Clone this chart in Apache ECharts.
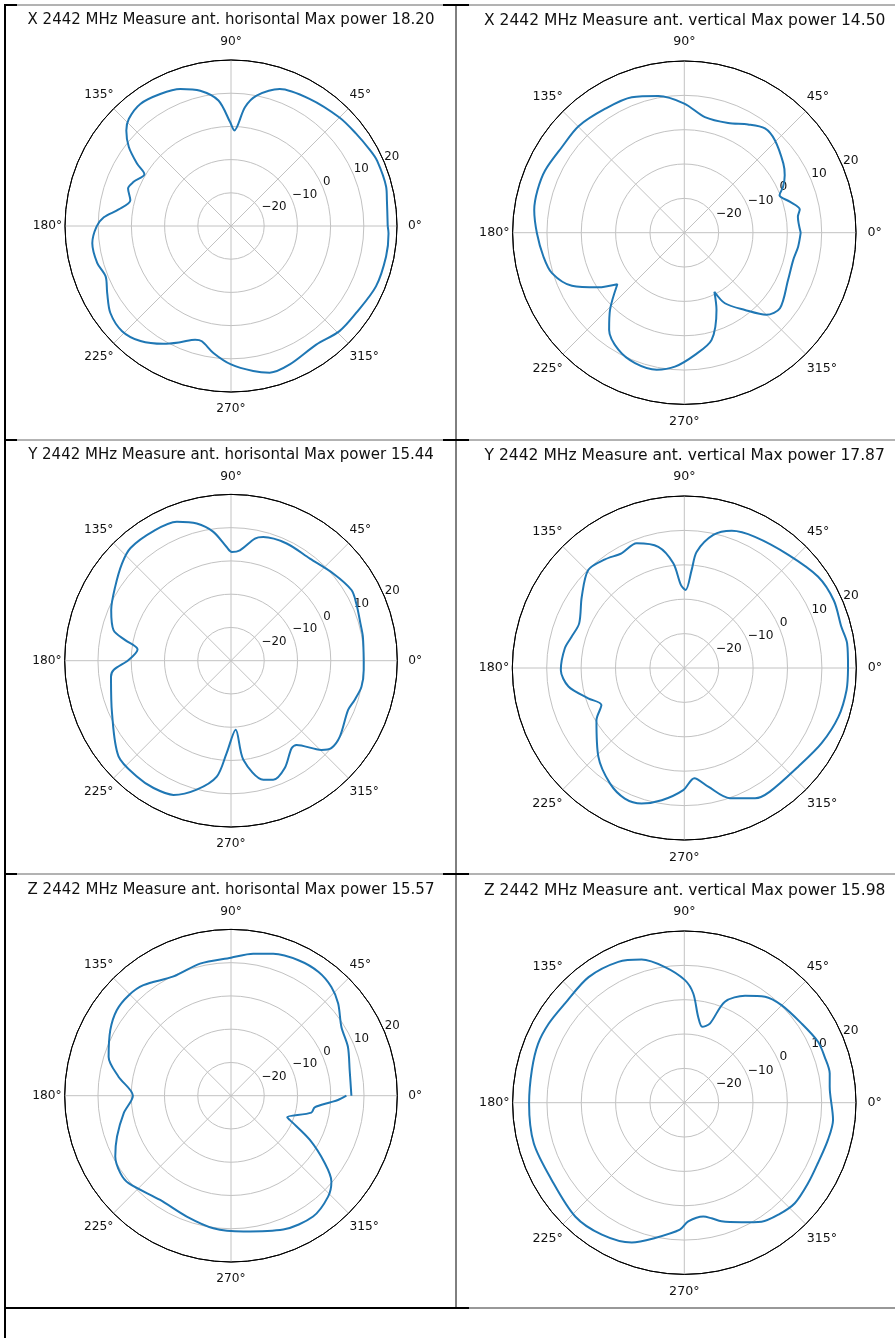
<!DOCTYPE html>
<html><head><meta charset="utf-8">
<script src="https://cdn.jsdelivr.net/npm/echarts@6/dist/echarts.min.js"></script>
<style>html,body{margin:0;padding:0;background:#fff}#c{width:895px;height:1338px}</style>
</head><body><div id="c"></div>
<script>
const titles = [
  'X 2442 MHz Measure ant. horisontal Max power 18.20',
  'X 2442 MHz Measure ant. vertical Max power 14.50',
  'Y 2442 MHz Measure ant. horisontal Max power 15.44',
  'Y 2442 MHz Measure ant. vertical Max power 17.87',
  'Z 2442 MHz Measure ant. horisontal Max power 15.57',
  'Z 2442 MHz Measure ant. vertical Max power 15.98'
];
const angleTicks = [0, 45, 90, 135, 180, 225, 270, 315];
const radiusTicks = [-30, -20, -10, 0, 10, 20];

const xHorAng = [0, 9.4, 14.2, 24, 28.6, 36.8, 45, 58.3, 70.4, 78.9, 83.3, 88, 90.5, 95.7, 102.8, 110.3, 118.2, 126.6, 133.6, 137.6, 142.3, 146.4, 149.1, 155.6, 160, 165.6, 171.6, 176.1, 180.3, 187.1, 195.5, 201.9, 208.4, 215.8, 224, 231.8, 240.2, 246.4, 252.5, 255.8, 262.1, 270, 278.7, 284.8, 293, 305.7, 315.9, 325.2, 337.4, 348.9, 357.3, 360];
const xHorDb  = [17.2, 17.6, 18.2, 18.2, 17.7, 16.8, 16.2, 15, 13.8, 10, 6, -1.2, 1.3, 8, 11.8, 14, 15.1, 15.8, 14.6, 12.7, 8.9, 4, 0.4, 2.2, 3, 1.3, 4.2, 8.4, 10.5, 12.1, 11.8, 10.7, 12.4, 14.8, 15.6, 14.1, 10.9, 8.2, 5.9, 5.8, 8.6, 11.7, 14.2, 15.7, 15.3, 14, 15.5, 15.9, 17.3, 17.6, 17.5, 17.2];

const xVerAng = [0, 8, 11.4, 16.4, 21.5, 24.9, 29.8, 35, 45.6, 52.3, 59.5, 68.2, 79.9, 90, 100.7, 111.2, 122.5, 134.8, 145, 155.8, 163.9, 171.4, 180.3, 189.7, 197, 205.3, 212.4, 217.6, 226.1, 232.3, 240.6, 249.3, 258.6, 266, 275, 284.3, 292.7, 297, 299.9, 308.1, 315, 321.7, 335.5, 346, 353, 360];
const xVerDb  = [3.9, 3.4, 4.3, 2, -0.2, 1.7, 3.7, 5.2, 7.7, 8.4, 6.6, 4.4, 4.2, 7.6, 10.5, 12.3, 12.8, 13.7, 13.5, 14.4, 14.5, 14.2, 12.9, 11.6, 10.3, 6.2, -0.3, -5.4, 1.2, 5.8, 9.1, 10.6, 10.7, 9.1, 5.7, 2.2, -5.7, -10.7, -6.3, -1.4, 3.8, 5.5, 3.2, 2.7, 3.4, 3.9];

const yHorAng = [0, 10.3, 16.1, 24.5, 30.4, 40.5, 52.3, 64.6, 75.4, 78.9, 85.4, 89.6, 92.2, 97.8, 104, 111.3, 120.7, 131.7, 138.3, 147.5, 157.1, 165.4, 169, 173.1, 179.6, 184.5, 187.6, 203.8, 220.4, 230.9, 238.7, 246.8, 255.1, 263, 267.3, 273.9, 277.1, 285.2, 289.5, 296.6, 304.7, 307.9, 315.4, 318.9, 325.1, 337.2, 342.4, 348.7, 356, 360];
const yHorDb  = [9.9, 10.3, 10.5, 11.4, 12, 10.4, 8.8, 9, 8.4, 7.4, 3.3, 2.7, 4.2, 9.1, 12.5, 14.8, 15.4, 15.4, 13.9, 11.3, 9.1, 6.5, 2.4, -1.7, 0.8, 5.4, 6.4, 9.1, 14.4, 14.9, 14.8, 13.9, 10.1, 5.1, -2.2, -9.2, 0, 7.1, 8, 6.1, 2, 2.1, 8.2, 10, 9.9, 8.2, 9, 10, 10, 9.9];

const yVerAng = [0, 8.6, 14.7, 24.3, 34.3, 47.4, 61.7, 70.9, 77.7, 83.9, 85.7, 89, 92.3, 96, 102.1, 110.9, 118.7, 126.1, 134.4, 145.2, 157, 164.5, 170.6, 180.9, 189.1, 197.5, 204.1, 210.7, 225.9, 237.2, 245.5, 252.5, 260.3, 269.5, 275.2, 281.4, 289.3, 298.5, 304.7, 319.1, 331.3, 342.5, 352.3, 360];
const yVerDb  = [17.6, 17.87, 17.2, 17.7, 17.1, 14.7, 13.3, 12.2, 9.6, 4, -1.4, -7.3, -5.9, 0.6, 6, 8.8, 8, 9.1, 9.9, 6.3, 3.2, 4, 5.2, 5.9, 4.1, -0.7, -3.6, -0.3, 5.9, 9.9, 11.7, 11.3, 9, 5.5, 2.2, 5.2, 10.1, 13.1, 13.7, 13.8, 15.5, 17, 17.6, 17.6];

const zHorAng = [0, 12.2, 22.7, 31.9, 40.7, 47.3, 54.7, 63.3, 73.4, 81.1, 90, 103.2, 115.7, 128.4, 135.6, 143.2, 151.5, 162.4, 170.4, 180, 189.3, 199.7, 207.7, 215, 220.5, 235.8, 249.9, 262.4, 275.2, 291.3, 304.2, 313.9, 319.5, 324.3, 330.7, 337.6, 339, 348.1, 352.1, 356.1, 357.7, 360];
const zHorDb  = [6.2, 6.5, 8.1, 9.1, 12.5, 14.5, 15.57, 15.5, 14.5, 13.2, 11.5, 10.8, 9.8, 12.4, 13.1, 12.9, 11.3, 8.6, 4.3, -0.5, 2.7, 6.4, 9.3, 10.6, 10.5, 7.9, 8.7, 10.2, 11, 13.2, 13.9, 12.1, 9.7, 4.7, -2.8, -10.9, -11.9, -5.3, -4.6, -0.2, 2.2, 4.7];

const zVerAng = [0, 6.3, 11.4, 18.1, 24.5, 34.1, 45.1, 52.7, 60.4, 68.1, 72.1, 76.7, 80.8, 85.3, 89.7, 98.1, 106.6, 115.1, 127.3, 140.2, 149.7, 158.1, 167.9, 180.2, 195.1, 210.2, 226.2, 238, 249.4, 257.8, 268, 271.9, 279.5, 283.3, 287.4, 295.6, 303, 310.1, 317.7, 327, 335.6, 345.5, 353.4, 360];
const zVerDb  = [12.8, 12.6, 13.2, 13, 12.8, 11.2, 10.1, 8.8, 5.8, 1.7, -5.8, -7.3, -4.7, 1.9, 5.7, 9.9, 13.5, 15.3, 15.98, 15.2, 15.7, 15.9, 15.4, 15.2, 15.4, 14.7, 15.9, 15.3, 13.5, 10.3, 7, 4.6, 3.6, 4.6, 6.2, 8.6, 11.3, 12.6, 13.5, 13, 12.7, 13.2, 13.6, 12.8];

const panels = [
  { ang: xHorAng, db: xHorDb }, { ang: xVerAng, db: xVerDb },
  { ang: yHorAng, db: yHorDb }, { ang: yVerAng, db: yVerDb },
  { ang: zHorAng, db: zHorDb }, { ang: zVerAng, db: zVerDb }
];

// layout of each cell (pixels)
const layout = [
  { cx: 231,   cy: 226,    R: 166,   tx: 231,   ty: 20.5,  s: 1 },
  { cx: 684.3, cy: 232.7,  R: 171.7, tx: 684.7, ty: 21,    s: 1.035 },
  { cx: 231,   cy: 660.7,  R: 166.3, tx: 231,   ty: 455,   s: 1 },
  { cx: 684.3, cy: 668,    R: 172,   tx: 684.7, ty: 456,   s: 1.035 },
  { cx: 231,   cy: 1095.7, R: 166.3, tx: 231,   ty: 890.5, s: 1 },
  { cx: 684.3, cy: 1102.7, R: 171.7, tx: 684.7, ty: 891,   s: 1.035 }
];

const FONT = '"DejaVu Sans", sans-serif';
const GRID = '#c2c2c2';
const TXT = '#111';
const labelPad = {
  0: [0, 0, 0, 11], 45: [0, 0, 7.5, 1], 90: [0, 0, 12, 0], 135: [0, 0, 7.5, 0],
  180: [0, 3, 0, 0], 225: [7.5, 0, 0, 0], 270: [10.5, 0, 0, 0], 315: [7.5, 0, 0, 1]
};

const polar = [], angleAxis = [], radiusAxis = [], series = [], graphic = [];
const rMin = radiusTicks[0], rMax = radiusTicks[radiusTicks.length - 1], rInt = radiusTicks[1] - radiusTicks[0];

panels.forEach((p, i) => {
  const L = layout[i], s = L.s;
  polar.push({ center: [L.cx, L.cy], radius: L.R });
  polar.push({ center: [L.cx, L.cy], radius: L.R });
  const rich = {};
  angleTicks.forEach(t => {
    rich['a' + t] = { padding: labelPad[t].map(v => v * s), fontSize: 12.2 * s, fontFamily: FONT, color: TXT };
  });
  angleAxis.push({
    polarIndex: 2 * i, type: 'value', min: 0, max: 360, interval: 45, startAngle: 0, clockwise: false,
    axisLine: { show: true, lineStyle: { color: '#000', width: 1 } },
    axisTick: { show: false },
    splitLine: { show: true, lineStyle: { color: GRID, width: 1 } },
    axisLabel: {
      show: true, margin: 0, fontSize: 12.2 * s, fontFamily: FONT, color: TXT,
      formatter: v => (v >= 360 || angleTicks.indexOf(v) < 0) ? '' : '{a' + v + '|' + v + '°}',
      rich: rich
    }
  });
  const splitColors = radiusTicks.map((t, k) => k === radiusTicks.length - 1 ? '#000' : GRID);
  radiusAxis.push({
    polarIndex: 2 * i, type: 'value', min: rMin, max: rMax, interval: rInt,
    axisLine: { show: false }, axisTick: { show: false }, axisLabel: { show: false },
    splitLine: { show: true, lineStyle: { color: splitColors, width: 1 } }
  });
  angleAxis.push({
    polarIndex: 2 * i + 1, type: 'value', min: 0, max: 360, startAngle: 22.5, clockwise: false,
    axisLine: { show: false }, axisTick: { show: false }, axisLabel: { show: false }, splitLine: { show: false }
  });
  radiusAxis.push({
    polarIndex: 2 * i + 1, type: 'value', min: rMin, max: rMax, interval: rInt,
    axisLine: { show: false }, axisTick: { show: false }, splitLine: { show: false },
    axisLabel: {
      show: true, margin: 0, align: 'left', verticalAlign: 'bottom', showMinLabel: false,
      fontSize: 11.8 * s, fontFamily: FONT, color: TXT,
      formatter: v => String(v).replace('-', '\u2212')
    }
  });
  series.push({
    type: 'line', coordinateSystem: 'polar', polarIndex: 2 * i,
    data: p.ang.map((a, k) => [p.db[k], a]),
    symbol: 'none', silent: true, z: 5, smooth: 0.3,
    lineStyle: { color: '#1f77b4', width: 2 }
  });
  graphic.push({
    type: 'text', x: L.tx, y: L.ty, silent: true,
    style: { text: titles[i], align: 'center', verticalAlign: 'middle', fontSize: 15 * s, fontFamily: FONT, fill: TXT }
  });
});

// table borders
function hline(y, x1, x2, w, c) { graphic.push({ type: 'line', silent: true, shape: { x1, y1: y, x2, y2: y }, style: { stroke: c, lineWidth: w } }); }
function vline(x, y1, y2, w, c) { graphic.push({ type: 'line', silent: true, shape: { x1: x, y1, x2: x, y2 }, style: { stroke: c, lineWidth: w } }); }
[5, 440, 874].forEach(y => {
  hline(y, 5, 895, 1, '#666');
  hline(y, 4, 17, 2, '#000');
  hline(y, 443, 469, 2, '#000');
});
hline(1308, 4, 469, 2, '#000');
hline(1308, 469, 895, 1.2, '#333');
vline(5, 4, 1338, 2, '#000');
vline(456, 4, 1308, 1, '#000');

const chart = echarts.init(document.getElementById('c'), null, { renderer: 'canvas', width: 895, height: 1338 });
chart.setOption({
  animation: false,
  backgroundColor: '#fff',
  polar, angleAxis, radiusAxis, series, graphic
});
</script>
</body></html>
